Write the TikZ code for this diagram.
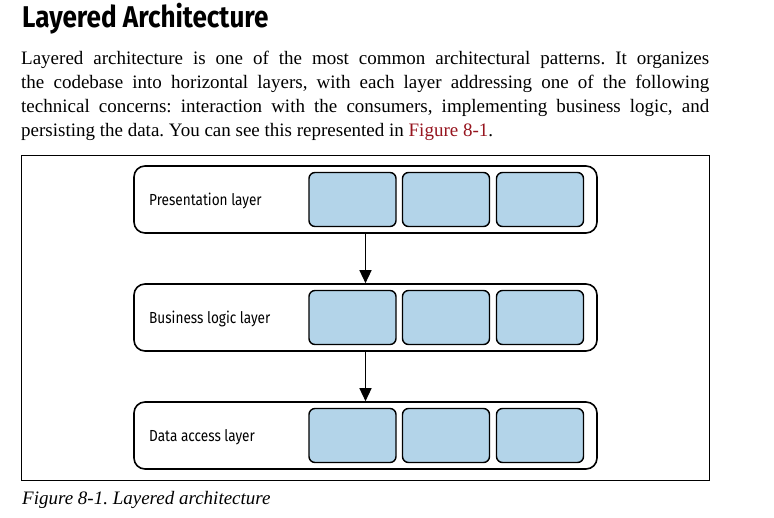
\documentclass[tikz,border=0pt]{standalone}
\usepackage{fontspec}
\setmainfont{Liberation Serif}
\newfontfamily\headfont[FakeStretch=0.87]{Fira Sans}
\newfontfamily\labelfont[FakeStretch=0.85]{Fira Sans}
\usetikzlibrary{arrows.meta}
\definecolor{boxblue}{RGB}{179,212,233}
\definecolor{linkred}{RGB}{150,20,30}
\frenchspacing

\begin{document}
\begin{tikzpicture}[x=1pt, y=-1pt,
			layer/.style={draw, line width=1.6pt, rounded corners=11pt, minimum width=463pt, minimum height=67pt},
			part/.style={draw, fill=boxblue, line width=1.4pt, rounded corners=6pt, minimum width=87pt, minimum height=54pt},
			lbl/.style={anchor=base west, inner sep=0pt, font=\labelfont\fontsize{16}{16}\selectfont},
			para/.style={anchor=base west, inner sep=0pt, font=\fontsize{19}{24}\selectfont}]
			\useasboundingbox (0, 0) rectangle (774, 517);
			% heading and text
			\node[anchor=base west, inner sep=0pt, font=\headfont\bfseries\fontsize{30}{30}\selectfont] (title) at (22, 27) {Layered Architecture};
			\node[para] (para1) at (21, 64) {\makebox[688pt][s]{Layered architecture is one of the most common architectural patterns. It organizes}};
			\node[para] (para2) at (21, 88) {\makebox[688pt][s]{the codebase into horizontal layers, with each layer addressing one of the following}};
			\node[para] (para3) at (21, 112) {\makebox[688pt][s]{technical concerns: interaction with the consumers, implementing business logic, and}};
			\node[para] (para4) at (21, 136) {persisting the data. You can see this represented in \textcolor{linkred}{Figure 8-1}.};
			% figure frame
			\draw[line width=1pt] (21, 155) rectangle (709, 480);
			% layers
			\node[layer] (pres) at (365.5, 199.5) {};
			\node[layer] (biz) at (365.5, 317.5) {};
			\node[layer] (data) at (365.5, 435.5) {};
			\node[lbl] (presl) at (149, 205.5) {Presentation layer};
			\node[lbl] (bizl) at (149, 323.5) {Business logic layer};
			\node[lbl] (datal) at (149, 441.5) {Data access layer};
			\node[part] (pres1) at (352.5, 199.5) {};
			\node[part] (pres2) at (446, 199.5) {};
			\node[part] (pres3) at (540, 199.5) {};
			\node[part] (biz1) at (352.5, 317.5) {};
			\node[part] (biz2) at (446, 317.5) {};
			\node[part] (biz3) at (540, 317.5) {};
			\node[part] (data1) at (352.5, 435.5) {};
			\node[part] (data2) at (446, 435.5) {};
			\node[part] (data3) at (540, 435.5) {};
			\draw[-{Triangle[length=13pt, width=12pt]}, line width=1.3pt] (pres) -- (biz);
			\draw[-{Triangle[length=13pt, width=12pt]}, line width=1.3pt] (biz) -- (data);
			% caption
			\node[anchor=base west, inner sep=0pt, font=\itshape\fontsize{19}{24}\selectfont] (caption) at (22, 504) {Figure 8-1. Layered architecture};
		\end{tikzpicture}
\end{document}
